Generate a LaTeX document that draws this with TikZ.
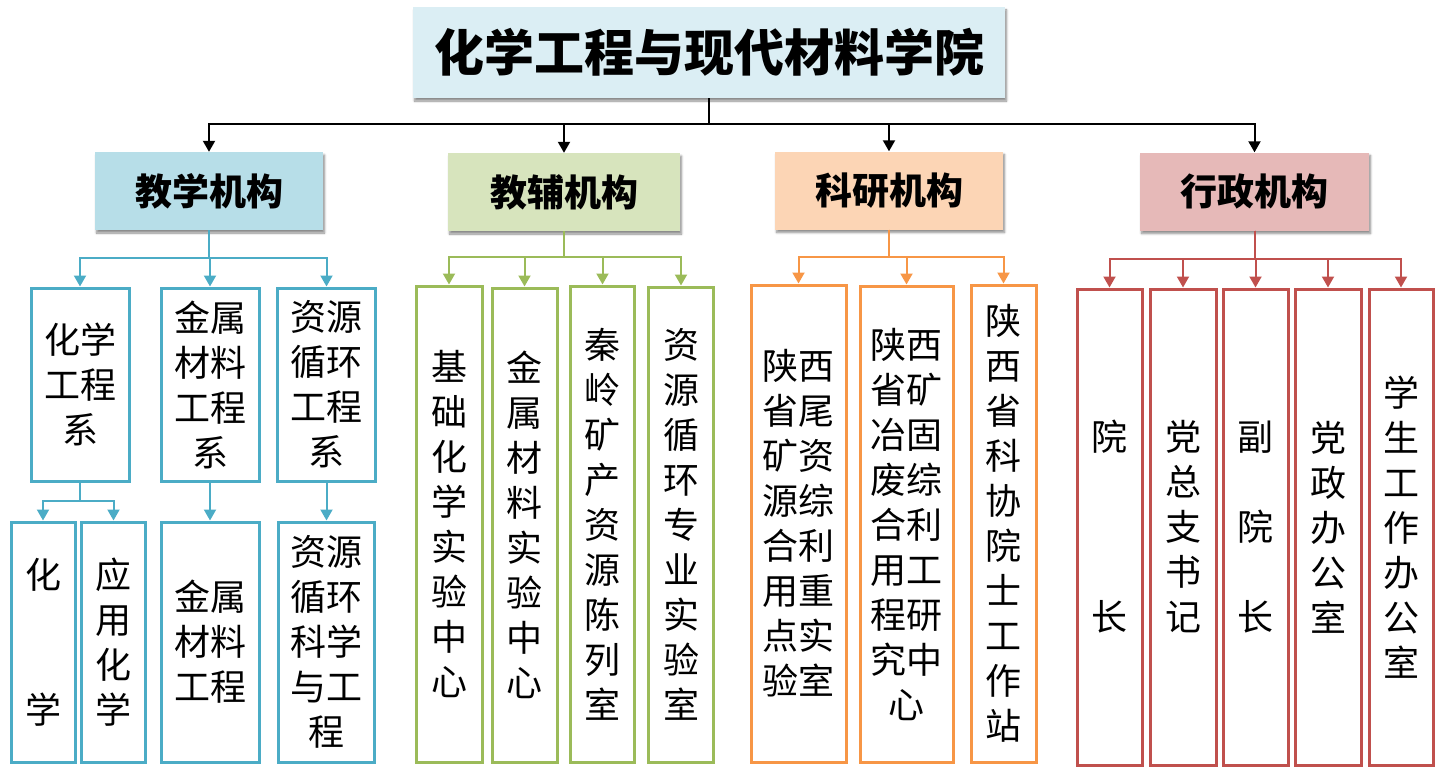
\documentclass[tikz,border=0pt]{standalone}
\usepackage{fontspec}
\setmainfont{Noto Sans CJK SC}
\usetikzlibrary{arrows.meta,shadows.blur}
\definecolor{cblue}{HTML}{4BACC6}
\definecolor{cgreen}{HTML}{9BBB59}
\definecolor{corange}{HTML}{F79646}
\definecolor{cred}{HTML}{C0504D}
\definecolor{ftitle}{HTML}{DBEEF4}
\definecolor{fblue}{HTML}{B7DEE8}
\definecolor{fgreen}{HTML}{D7E4BD}
\definecolor{forange}{HTML}{FCD5B5}
\definecolor{fred}{HTML}{E6B9B8}
\begin{document}
\begin{tikzpicture}[x=1pt,y=-1pt,
 lvlbox/.style={inner sep=0, font=\fontsize{37}{44}\selectfont\bfseries,
   blur shadow={shadow xshift=1.5pt,shadow yshift=-3pt,shadow blur steps=6,shadow opacity=45}},
 unitbox/.style={draw=#1, line width=3pt, fill=white, inner sep=0, align=center,
   font=\fontsize{36}{45}\selectfont},
 arrowlink/.style={line width=2pt, draw=#1, -{Triangle[width=12pt,length=11pt]}}
]
\useasboundingbox (0,0) rectangle (1444,768);

% root
\node[lvlbox, fill=ftitle, font=\fontsize{50}{60}\selectfont\bfseries,
  minimum width=592, minimum height=91] (root) at (709,52.5) {化学工程与现代材料学院};

% level 1
\node[lvlbox, fill=fblue,   minimum width=228, minimum height=78] (jx) at (209,191)    {教学机构};
\node[lvlbox, fill=fgreen,  minimum width=232, minimum height=78] (jf) at (564,192)    {教辅机构};
\node[lvlbox, fill=forange, minimum width=228, minimum height=78] (ky) at (889,190.5)  {科研机构};
\node[lvlbox, fill=fred,    minimum width=229, minimum height=78] (xz) at (1254.5,191.5) {行政机构};

% teaching
\node[unitbox=cblue, minimum width=98, minimum height=193] (c1) at (80,384.5)  {化学\\工程\\系};
\node[unitbox=cblue, minimum width=98, minimum height=193] (c2) at (210,384.5) {金属\\材料\\工程\\系};
\node[unitbox=cblue, minimum width=98, minimum height=193] (c3) at (326.5,384.5) {资源\\循环\\工程\\系};
\node[unitbox=cblue, minimum width=64, minimum height=240] (d1) at (43,642)    {化\\[90pt]学};
\node[unitbox=cblue, minimum width=64, minimum height=240] (d2) at (113.5,642) {应\\用\\化\\学};
\node[unitbox=cblue, minimum width=98, minimum height=240] (d3) at (210,642)   {金属\\材料\\工程};
\node[unitbox=cblue, minimum width=96, minimum height=240] (d4) at (326.5,642) {资源\\循环\\科学\\与工\\程};

% auxiliary
\node[unitbox=cgreen, minimum width=66, minimum height=476] (g1) at (449,524)   {基\\础\\化\\学\\实\\验\\中\\心};
\node[unitbox=cgreen, minimum width=65, minimum height=474] (g2) at (524.5,525) {金\\属\\材\\料\\实\\验\\中\\心};
\node[unitbox=cgreen, minimum width=64, minimum height=476] (g3) at (602.5,524) {秦\\岭\\矿\\产\\资\\源\\陈\\列\\室};
\node[unitbox=cgreen, minimum width=65, minimum height=475] (g4) at (681,524.5) {资\\源\\循\\环\\专\\业\\实\\验\\室};

% research
\node[unitbox=corange, minimum width=95, minimum height=477] (o1) at (798.5,523.5) {陕西\\省尾\\矿资\\源综\\合利\\用重\\点实\\验室};
\node[unitbox=corange, minimum width=93, minimum height=476] (o2) at (906.5,524)   {陕西\\省矿\\冶固\\废综\\合利\\用工\\程研\\究中\\心};
\node[unitbox=corange, minimum width=65, minimum height=477] (o3) at (1003.5,523.5) {陕\\西\\省\\科\\协\\院\\士\\工\\作\\站};

% administration
\node[unitbox=cred, minimum width=65, minimum height=476] (r1) at (1109.5,527) {院\\[135pt]长};
\node[unitbox=cred, minimum width=66, minimum height=476] (r2) at (1183,527)   {党\\总\\支\\书\\记};
\node[unitbox=cred, minimum width=65, minimum height=476] (r3) at (1255.5,527) {副\\[45pt]院\\[45pt]长};
\node[unitbox=cred, minimum width=66, minimum height=476] (r4) at (1328,527)   {党\\政\\办\\公\\室};
\node[unitbox=cred, minimum width=64, minimum height=476] (r5) at (1401,527)   {学\\生\\工\\作\\办\\公\\室};

% connectors
\foreach \t in {jx,jf,ky,xz}
  \draw[arrowlink=black] (root.south) -- ++(0,26) -| (\t.north);
\foreach \t in {c1,c2,c3}
  \draw[arrowlink=cblue] (jx.south) -- ++(0,28) -| (\t.north);
\foreach \t in {d1,d2}
  \draw[arrowlink=cblue] (c1.south) -- ++(0,18) -| (\t.north);
\draw[arrowlink=cblue] (c2.south) -- (d3.north);
\draw[arrowlink=cblue] (c3.south) -- (d4.north);
\foreach \t in {g1,g2,g3,g4}
  \draw[arrowlink=cgreen] (jf.south) -- ++(0,26) -| (\t.north);
\foreach \t in {o1,o2,o3}
  \draw[arrowlink=corange] (ky.south) -- ++(0,27) -| (\t.north);
\foreach \t in {r1,r2,r3,r4,r5}
  \draw[arrowlink=cred] (xz.south) -- ++(0,28) -| (\t.north);
\end{tikzpicture}
\end{document}
